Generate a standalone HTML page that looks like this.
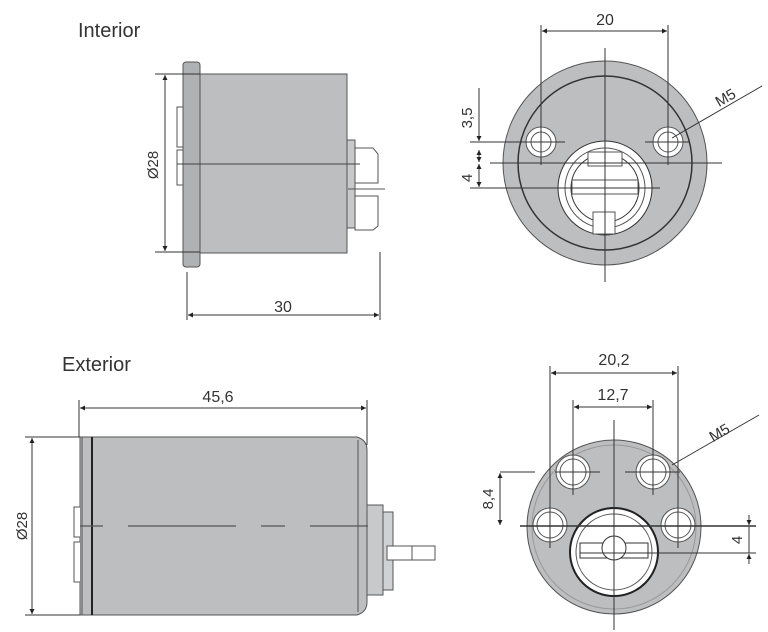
<!DOCTYPE html>
<html><head><meta charset="utf-8"><style>
html,body{margin:0;padding:0;background:#fff;}
svg{display:block;}
text{font-family:"Liberation Sans",sans-serif;fill:#333;}
</style></head><body>
<svg width="768" height="632" viewBox="0 0 768 632" xmlns="http://www.w3.org/2000/svg">
<defs>
<marker id="a" viewBox="0 0 10 10" refX="10" refY="5" markerWidth="7" markerHeight="5" orient="auto-start-reverse"><path d="M0,0 L10,5 L0,10 z" fill="#222"/></marker>
</defs>
<text x="78" y="37" font-size="20">Interior</text>
<text x="62" y="371" font-size="20">Exterior</text>

<!-- INTERIOR SIDE -->
<g stroke="#555" stroke-width="1">
<rect x="200" y="74" width="147" height="179" fill="#bdbec0"/>
<rect x="183" y="62" width="17" height="205" rx="3" fill="#b0b1b3"/>
<path d="M183,147 h-6 v-40 h6 M183,150 h-6 v35 h6" fill="none"/>
<rect x="347" y="140" width="8" height="88" fill="#c8c9cb"/>
<path d="M355,148 h18 l5,6 v29 h-23 z M355,196 h23 v30 l-5,4 h-18 z" fill="#fff"/>
<line x1="177" y1="164" x2="360" y2="164" stroke="#444"/>
<line x1="348" y1="189" x2="385" y2="189"/>
</g>
<g stroke="#333" stroke-width="1" fill="none">
<line x1="155" y1="74" x2="200" y2="74"/><line x1="155" y1="252" x2="200" y2="252"/>
<line x1="165" y1="75" x2="165" y2="251" marker-start="url(#a)" marker-end="url(#a)"/>
<line x1="187" y1="272" x2="187" y2="320"/><line x1="380" y1="252" x2="380" y2="320"/>
<line x1="188" y1="315" x2="379" y2="315" marker-start="url(#a)" marker-end="url(#a)"/>
</g>
<text x="283" y="312" font-size="16" text-anchor="middle">30</text>
<text transform="translate(158,165) rotate(-90)" font-size="15" text-anchor="middle">Ø28</text>

<!-- INTERIOR FRONT -->
<g stroke="#555" stroke-width="1">
<circle cx="605" cy="163" r="102" fill="#bdbec0"/>
<circle cx="605" cy="163" r="87" fill="#bdbec0" stroke="#333" stroke-width="1.5"/>
<circle cx="541" cy="142" r="15" fill="#fff"/><circle cx="541" cy="142" r="10" fill="#fff"/>
<circle cx="668" cy="142" r="15" fill="#fff"/><circle cx="668" cy="142" r="10" fill="#fff"/>
<circle cx="605" cy="188" r="47" fill="#fff" stroke="#333"/>
<circle cx="605" cy="188" r="40" fill="none"/>
<circle cx="605" cy="188" r="34" fill="none" stroke="#333"/>
<rect x="588" y="152" width="34" height="14" fill="#fff"/>
<rect x="593" y="212" width="22" height="22" fill="#fff"/>
<rect x="572" y="180" width="66" height="14" fill="#fff"/>
</g>
<g stroke="#333" stroke-width="1" fill="none">
<line x1="605" y1="48" x2="605" y2="282"/>
<line x1="490" y1="163" x2="722" y2="163"/>
<line x1="520" y1="142" x2="565" y2="142"/><line x1="645" y1="142" x2="690" y2="142"/>
<line x1="550" y1="188" x2="660" y2="188"/>
<line x1="541" y1="25" x2="541" y2="165"/><line x1="668" y1="25" x2="668" y2="165"/>
<line x1="542" y1="31" x2="667" y2="31" marker-start="url(#a)" marker-end="url(#a)"/>
<line x1="672" y1="138" x2="762" y2="86"/>
<line x1="470" y1="142" x2="541" y2="142"/><line x1="470" y1="188" x2="550" y2="188"/>
<line x1="479" y1="88" x2="479" y2="141" marker-end="url(#a)"/>
<line x1="479" y1="150" x2="479" y2="162" marker-start="url(#a)" marker-end="url(#a)"/>
<line x1="479" y1="164" x2="479" y2="187" marker-start="url(#a)" marker-end="url(#a)"/>
</g>
<text x="605" y="25" font-size="16" text-anchor="middle">20</text>
<text transform="translate(728,102) rotate(-30)" font-size="15" text-anchor="middle">M5</text>
<text transform="translate(472,118) rotate(-90)" font-size="15" text-anchor="middle">3,5</text>
<text transform="translate(472,178) rotate(-90)" font-size="15" text-anchor="middle">4</text>

<!-- EXTERIOR SIDE -->
<g stroke="#555" stroke-width="1">
<path d="M80,437 H357 Q367,440 367,450 V602 Q367,612 357,615 H80 z" fill="#bdbec0"/>
<path d="M80,507 h-6 v30 h6 M80,542 h-6 v40 h6" fill="#fff"/>
<line x1="92" y1="437" x2="92" y2="615" stroke="#222" stroke-width="2"/>
<line x1="82" y1="437" x2="82" y2="615"/>
<line x1="358" y1="440" x2="358" y2="612"/>
<rect x="367" y="505" width="16" height="90" fill="#c8c9cb"/>
<rect x="383" y="512" width="10" height="78" fill="#d0d1d3"/>
<rect x="387" y="546" width="48" height="14" fill="#fff"/>
<line x1="412" y1="546" x2="412" y2="560"/>
</g>
<g stroke="#555" stroke-width="1.3">
<line x1="80" y1="526" x2="103" y2="526"/>
<line x1="128" y1="526" x2="236" y2="526"/>
<line x1="261" y1="526" x2="285" y2="526"/>
<line x1="310" y1="526" x2="368" y2="526"/>
</g>
<g stroke="#333" stroke-width="1" fill="none">
<line x1="79" y1="400" x2="79" y2="437"/><line x1="367" y1="400" x2="367" y2="445"/>
<line x1="80" y1="408" x2="366" y2="408" marker-start="url(#a)" marker-end="url(#a)"/>
<line x1="25" y1="437" x2="80" y2="437"/><line x1="25" y1="615" x2="80" y2="615"/>
<line x1="32" y1="438" x2="32" y2="614" marker-start="url(#a)" marker-end="url(#a)"/>
</g>
<text x="218" y="402" font-size="16" text-anchor="middle">45,6</text>
<text transform="translate(27,526) rotate(-90)" font-size="15" text-anchor="middle">Ø28</text>

<!-- EXTERIOR FRONT -->
<g stroke="#555" stroke-width="1">
<circle cx="614" cy="527" r="87" fill="#bdbec0"/>
<circle cx="614" cy="527" r="82" fill="none" stroke="#999"/>
<circle cx="573" cy="472" r="17" fill="#fff"/><circle cx="573" cy="472" r="13" fill="#fff"/>
<circle cx="653" cy="472" r="17" fill="#fff"/><circle cx="653" cy="472" r="13" fill="#fff"/>
<circle cx="550" cy="525" r="17" fill="#fff"/><circle cx="550" cy="525" r="13" fill="#fff"/>
<circle cx="678" cy="525" r="17" fill="#fff"/><circle cx="678" cy="525" r="13" fill="#fff"/>
<circle cx="614" cy="552" r="44" fill="#fff" stroke="#222" stroke-width="2"/>
<circle cx="614" cy="552" r="38" fill="none"/>
<rect x="580" y="543" width="68" height="15" fill="#fff" stroke="#333"/>
<circle cx="614" cy="548" r="12" fill="#fff" stroke="#333"/>
</g>
<g stroke="#333" stroke-width="1" fill="none">
<line x1="614" y1="420" x2="614" y2="630"/>
<line x1="520" y1="526" x2="756" y2="526" stroke-width="1.5"/>
<line x1="500" y1="472" x2="535" y2="472"/><line x1="555" y1="472" x2="600" y2="472"/><line x1="625" y1="472" x2="680" y2="472"/>
<line x1="580" y1="553" x2="756" y2="553"/>
<line x1="573" y1="400" x2="573" y2="495"/><line x1="653" y1="400" x2="653" y2="495"/>
<line x1="550" y1="366" x2="550" y2="548"/><line x1="678" y1="366" x2="678" y2="548"/>
<line x1="551" y1="373" x2="677" y2="373" marker-start="url(#a)" marker-end="url(#a)"/>
<line x1="574" y1="407" x2="652" y2="407" marker-start="url(#a)" marker-end="url(#a)"/>
<line x1="672" y1="465" x2="759" y2="415"/>
<line x1="500" y1="473" x2="500" y2="525" marker-start="url(#a)" marker-end="url(#a)"/>
<line x1="749" y1="515" x2="749" y2="525" marker-end="url(#a)"/>
<line x1="749" y1="564" x2="749" y2="554" marker-end="url(#a)"/>
<line x1="749" y1="526" x2="749" y2="553"/>
</g>
<text x="614" y="365" font-size="16" text-anchor="middle">20,2</text>
<text x="613" y="400" font-size="16" text-anchor="middle">12,7</text>
<text transform="translate(722,437) rotate(-30)" font-size="15" text-anchor="middle">M5</text>
<text transform="translate(493,499) rotate(-90)" font-size="15" text-anchor="middle">8,4</text>
<text transform="translate(742,540) rotate(-90)" font-size="15" text-anchor="middle">4</text>
</svg>
</body></html>
